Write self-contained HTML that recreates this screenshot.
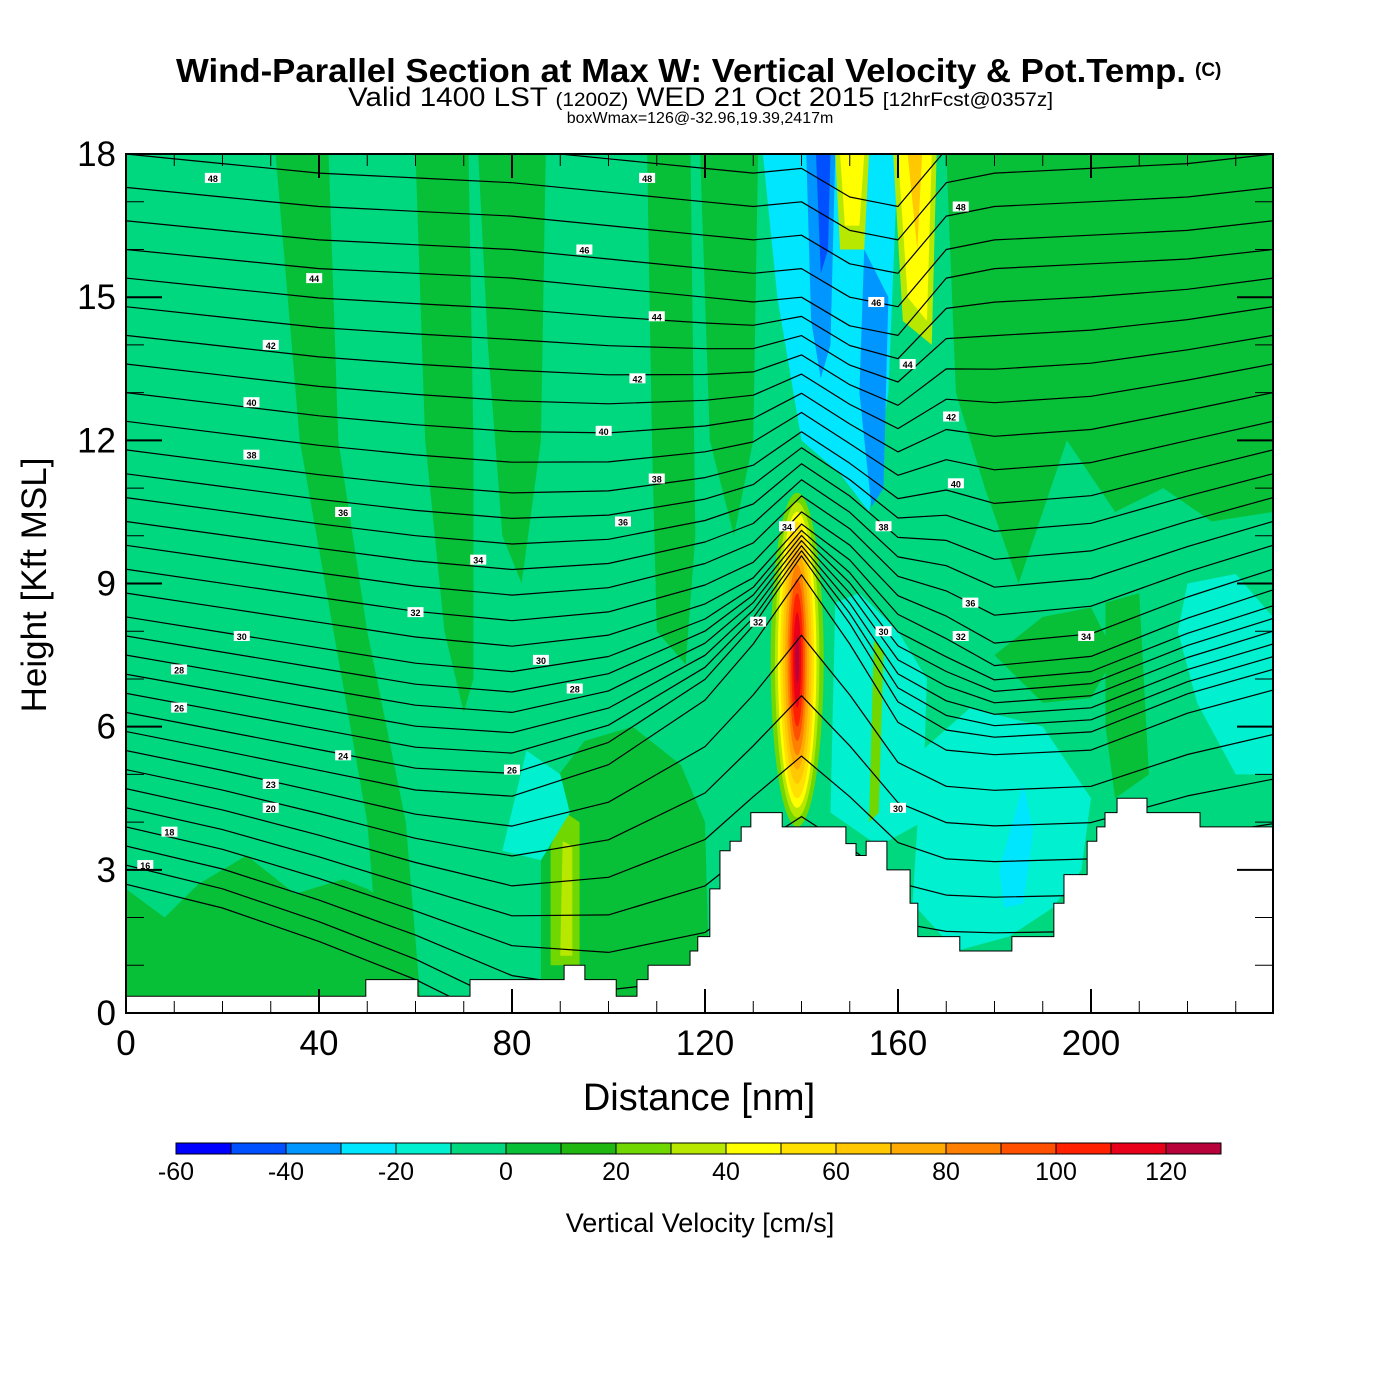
<!DOCTYPE html>
<html><head><meta charset="utf-8"><style>
html,body{margin:0;padding:0;background:#fff;}
svg{display:block;font-family:"Liberation Sans",sans-serif;}
</style></head><body>
<svg id="chart" width="1400" height="1400" viewBox="0 0 1400 1400" xmlns="http://www.w3.org/2000/svg">
<defs><clipPath id="plotclip"><rect x="126" y="154" width="1147" height="859"/></clipPath></defs>
<text x="176" y="82" textLength="1010" lengthAdjust="spacingAndGlyphs" font-size="33" font-weight="bold">Wind-Parallel Section at Max W: Vertical Velocity &amp; Pot.Temp.</text>
<text x="1195" y="76" font-size="19" font-weight="bold">(C)</text>
<text x="348" y="106" textLength="705" lengthAdjust="spacingAndGlyphs" font-size="27">Valid 1400 LST <tspan font-size="19">(1200Z)</tspan> WED 21 Oct 2015 <tspan font-size="19">[12hrFcst@0357z]</tspan></text>
<text x="700" y="123" text-anchor="middle" font-size="16">boxWmax=126@-32.96,19.39,2417m</text>
<g id="field" clip-path="url(#plotclip)"></g>
<g id="lines" clip-path="url(#plotclip)"></g>
<g id="terrain" clip-path="url(#plotclip)"></g>
<g id="labels"></g>
<rect x="126" y="154" width="1147" height="859" fill="none" stroke="#000" stroke-width="2"/>
<g id="axes"></g>
<text x="699" y="1110" text-anchor="middle" font-size="38">Distance [nm]</text>
<text transform="translate(46,585) rotate(-90)" text-anchor="middle" font-size="35">Height [Kft MSL]</text>
<g id="cbar"></g>
<text x="700" y="1232" text-anchor="middle" font-size="27">Vertical Velocity [cm/s]</text>
</svg>
<script>
const NS="http://www.w3.org/2000/svg";
const xTicks=[0,40,80,120,160,200];
const yTicks=[0,3,6,9,12,15,18];
const cbColors=["#0000ff","#0050ff","#0096ff","#00e6ff","#00f0d0","#00d880","#08c038","#20b810","#70d800","#b8e800","#ffff00","#ffe000","#ffc800","#ffaa00","#ff8000","#ff5000","#ff2000","#e8001a","#b8003a"];
const cbLabels=[-60,-40,-20,0,20,40,60,80,100,120];
const terrainX=[0,49.7,60.5,71.3,90.8,95.1,101.6,105.9,108.2,116.9,118.5,121,123.1,125.2,127.5,129.5,136,149.2,151.3,153.4,157.7,162.5,164.1,172.8,183.6,192.3,194.4,199.2,201.2,202.9,205.4,211.6,222.6];
const terrainH=[0.35,0.7,0.35,0.7,1.0,0.7,0.35,0.7,1.0,1.3,1.6,2.6,3.4,3.6,3.9,4.2,3.9,3.55,3.3,3.6,3.0,2.3,1.6,1.3,1.6,2.3,2.9,3.6,3.9,4.2,4.5,4.2,3.9];
const thetaBase=[2.7,3.1,3.5,3.9,4.3,4.7,5.1,5.5,5.9,6.3,6.7,7.1,7.5,7.9,8.3,8.8,9.3,9.8,10.3,10.8,11.3,11.8,12.4,13.0,13.6,14.2,14.8,15.4,16.0,16.6,17.3,18.0,18.7];
const profX=[0,20,40,60,80,100,120,130,140,150,160,170,180,200,220,237.7];
const profLow=[0,-0.5,-1.2,-2.0,-3.0,-3.5,-3.5,-3,-3,-3,-3,-3,-3,-3,-3,-3];
const profMidLow=[0,-0.4,-0.8,-1.2,-1.3,-0.6,0.8,2.0,3.5,2.0,0.3,-0.3,-0.4,-0.3,0.5,1.0];
const profMid=[0,-0.3,-0.6,-0.9,-1.1,-0.9,-0.3,0.2,1.3,0.6,-0.5,-1.0,-1.6,-1.4,-0.6,0];
const profHigh=[0,-0.2,-0.4,-0.5,-0.6,-0.8,-1.0,-1.1,-1.0,-1.6,-1.8,-0.6,-0.4,-0.3,-0.2,0];
const lblX=[18,108,173,39,95,110,155.5,162,30,106,171,26,99,172,26,110,157,45,103,175,73,137,199,60,131,173,157,24,86,11,93,11,80,45,30,30,9,4,160];
const lblH=[17.5,17.5,16.9,15.4,16.0,14.6,14.9,13.6,14.0,13.3,12.5,12.8,12.2,11.1,11.7,11.2,10.2,10.5,10.3,8.6,9.5,10.2,7.9,8.4,8.2,7.9,8.0,7.9,7.4,7.2,6.8,6.4,5.1,5.4,4.8,4.3,3.8,3.1,4.3];
const lblT=["48","48","48","44","46","44","46","44","42","42","42","40","40","40","38","38","38","36","36","36","34","34","34","32","32","32","30","30","30","28","28","26","26","24","23","20","18","16","30"];
const X=v=>126+v*4.825, Y=v=>1013-v*47.72;
function mk(tag,parent,attrs){const e=document.createElementNS(NS,tag);for(const k in attrs)e.setAttribute(k,attrs[k]);parent.appendChild(e);return e;}
const field=document.getElementById('field');
mk('rect',field,{x:126,y:154,width:1147,height:859,fill:'#00d880'});
function poly(pts,color,name){const p=mk('polygon',field,{points:pts.map(q=>X(q[0])+','+Y(q[1])).join(' '),fill:color});

}
const DG='#08c038';
poly([[31,18],[42,18],[44,12],[50,8],[58,4],[61,0.3],[53,0.3],[50,4],[43,8],[36,12]],DG,'updraft-band-1');
poly([[60,18],[71,18],[72,12],[72,7],[70,6.3],[66,8],[62,12]],DG,'updraft-band-2');
poly([[73,18],[87,18],[86,12],[82,9],[78,10],[75,14]],DG,'updraft-band-3');
poly([[108,18],[117,18],[118,10],[116,7.3],[110,8],[109,12]],DG,'updraft-band-4');
poly([[119,18],[131,18],[130,12],[126,10],[121,12]],DG,'updraft-band-5');
poly([[170,18],[237.7,18],[237.7,10.5],[225,10.3],[215,11],[205,10.5],[195,12],[185,9],[178,11],[172,13]],DG,'updraft-band-right');
poly([[0,2.6],[8,2],[15,2.7],[25,3.3],[35,2.5],[45,2.8],[50,2.6],[55,2.3],[57,0.3],[0,0.3]],DG,'low-left-green');
poly([[86,4.5],[95,5.7],[105,6],[115,5.2],[120,4],[121,0.3],[86,0.3]],DG,'low-mid-green');
poly([[180,7.5],[190,6.5],[200,6.6],[205,7.5],[200,8.5],[190,8.3]],DG,'mid-right-green');
poly([[203,8.6],[210,8.8],[212,5],[205,4.5],[203,6]],DG,'right-band-green');
poly([[88,1],[94,1],[94,4],[91,4.2],[88,3.5]],'#70d800','low-streak');
poly([[90,1.2],[92.5,1.2],[92.5,3.5],[90.5,3.6]],'#b8e800','low-streak-inner');
poly([[78,3.4],[83,5.5],[90,5],[92,4.2],[86,3.2]],'#00f0d0','left-cyan');
poly([[146,4.2],[147,8.6],[152,8.8],[160,8],[166,7],[165,4],[156,3.5]],'#00f0d0','right-of-core-cyan');
poly([[163,2.3],[165,5.5],[175,6.4],[190,6],[200,4.5],[198,3.0],[192,2.2],[183,1.6],[172,1.3]],'#00f0d0','lower-right-cyan');
poly([[220,9],[230,9.2],[237.7,8.3],[237.7,5],[230,5],[222,6.5],[218,8]],'#00f0d0','far-right-cyan');
poly([[181,3],[186,4.8],[188,3.8],[186,2.3],[182,2.2]],'#00e6ff','lower-right-blue');
poly([[154,4],[155,7.8],[157,7.6],[156,4.2]],'#70d800','secondary-updraft');
poly([[132,18],[160,18],[158,13],[154,10.5],[148,11.3],[140,12],[135,15]],'#00e6ff','downdraft-cyan');
poly([[141,18],[147,18],[146,14],[144,13.3],[142,14.5]],'#0096ff','downdraft-blue-1');
poly([[153,16],[158,15],[157,11],[154.5,10.6],[152,13]],'#0096ff','downdraft-blue-2');
poly([[143,18],[146,18],[145.5,16],[144,15.5]],'#0050ff','downdraft-core');
poly([[147,18],[154,18],[153,16],[148,16]],'#b8e800','upper-updraft-1-edge');
poly([[148,18],[153,18],[152,16.5],[149,16.5]],'#ffff00','upper-updraft-1');
poly([[159,18],[168,18],[167,14],[161,14.5]],'#b8e800','upper-updraft-2-edge');
poly([[160,18],[167,18],[166,14.5],[162,15]],'#ffff00','upper-updraft-2');
poly([[162,18],[165,18],[164,16]],'#ffc800','upper-updraft-2-core');
const coreColors=['#70d800','#b8e800','#ffff00','#ffe000','#ffc800','#ffaa00','#ff8000','#ff5000','#ff2000','#e8001a','#b8003a'];
const coreRx=[5.5,4.6,4.0,3.5,3.0,2.5,2.0,1.6,1.2,0.8,0.4];
const coreRy=[3.5,3.3,3.1,2.9,2.6,2.3,2.0,1.7,1.4,1.0,0.5];
coreColors.forEach((c,i)=>{const e=mk('ellipse',field,{cx:X(139.1),cy:Y(7.4),rx:coreRx[i]*4.825,ry:coreRy[i]*47.72,fill:c});

});
const anchors=[3,6,9,16], profs=[profLow,profMidLow,profMid,profHigh];
function disp(h0,j){if(h0<=anchors[0])return profs[0][j];if(h0>=anchors[3])return profs[3][j];
for(let k=0;k<3;k++)if(h0<=anchors[k+1]){const t=(h0-anchors[k])/(anchors[k+1]-anchors[k]);return profs[k][j]*(1-t)+profs[k+1][j]*t;}}
const lines=document.getElementById('lines');
thetaBase.forEach(h0=>{const pts=profX.map((x,j)=>X(x)+','+Y(h0+disp(h0,j)).toFixed(1));
const l=mk('polyline',lines,{points:pts.join(' '),fill:'none',stroke:'#000','stroke-width':1.2,'stroke-linejoin':'round'});

});
const ter=document.getElementById('terrain');
let d='M'+X(0)+','+1013;
terrainX.forEach((x,i)=>{d+=' L'+X(x)+','+Y(i?terrainH[i-1]:terrainH[0])+' L'+X(x)+','+Y(terrainH[i]);});
d+=' L'+X(237.7)+','+Y(terrainH[terrainH.length-1])+' L'+X(237.7)+',1013 Z';
const tp=mk('path',ter,{d:d,fill:'#fff',stroke:'#000','stroke-width':1});


const lg=document.getElementById('labels');
lblT.forEach((t,i)=>{const x=X(lblX[i]),y=Y(lblH[i]);
const r=mk('rect',lg,{x:x-8,y:y-5,width:16,height:10,fill:'#fff'});


const tx=mk('text',lg,{x:x,y:y+4,'text-anchor':'middle','font-size':9,'font-weight':'bold'});tx.textContent=t;

});
const ax=document.getElementById('axes');
for(let v=0;v<=237;v+=10){const maj=v%40===0;const L=maj?24:12;
mk('line',ax,{x1:X(v),x2:X(v),y1:1013,y2:1013-L,stroke:'#000','stroke-width':maj?2:1});
mk('line',ax,{x1:X(v),x2:X(v),y1:154,y2:154+L,stroke:'#000','stroke-width':maj?2:1});}
for(let v=0;v<=18;v++){const maj=v%3===0;const L=maj?36:18;
mk('line',ax,{x1:126,x2:126+L,y1:Y(v),y2:Y(v),stroke:'#000','stroke-width':maj?2:1});
mk('line',ax,{x1:1273,x2:1273-L,y1:Y(v),y2:Y(v),stroke:'#000','stroke-width':maj?2:1});}
xTicks.forEach(v=>{const t=mk('text',ax,{x:X(v),y:1055,'text-anchor':'middle','font-size':35});t.textContent=v;

});
yTicks.forEach(v=>{const t=mk('text',ax,{x:116,y:Y(v)+12,'text-anchor':'end','font-size':35});t.textContent=v;

});
const cb=document.getElementById('cbar');const bw=1045/cbColors.length;
cbColors.forEach((c,i)=>{const r=mk('rect',cb,{x:176+i*bw,y:1143,width:bw,height:11,fill:c,stroke:'#000','stroke-width':1});

});
cbLabels.forEach(v=>{const t=mk('text',cb,{x:176+(v+60)/10*bw,y:1180,'text-anchor':'middle','font-size':25});t.textContent=v;

});
</script>
</body></html>
